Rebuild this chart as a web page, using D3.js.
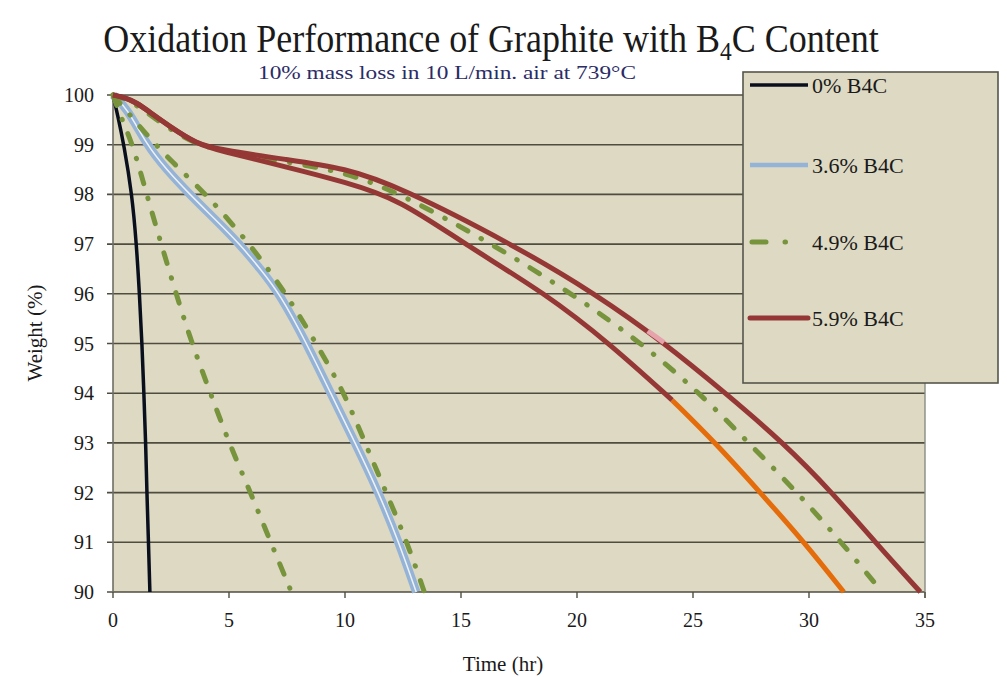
<!DOCTYPE html>
<html>
<head>
<meta charset="utf-8">
<script src="https://cdn.jsdelivr.net/npm/d3@7"></script>
<style>
  html, body { margin: 0; padding: 0; background: #ffffff; }
  svg { display: block; }
  text { font-family: "Liberation Serif", "Times New Roman", serif; fill: #1a1a1a; }
</style>
</head>
<body>
<svg id="chart" width="1007" height="677"></svg>
<script>
// ---------- data ----------
const titleMain = "Oxidation Performance of Graphite with B";
const titleSub = "4";
const titleEnd = "C Content";
const subtitle = "10% mass loss in 10 L/min.  air at 739°C";
const xLabel = "Time (hr)";
const yLabel = "Weight (%)";
const xTicks = [0, 5, 10, 15, 20, 25, 30, 35];
const yTicks = [90, 91, 92, 93, 94, 95, 96, 97, 98, 99, 100];
const legendLabels = ["0% B4C", "3.6% B4C", "4.9% B4C", "5.9% B4C"];

// 0% B4C
const t0 = [0, 0.2, 0.47, 0.82, 1.01, 1.14, 1.25, 1.33, 1.41, 1.46, 1.53, 1.59];
const w0 = [100, 99.6, 99, 98, 97, 96, 95, 94, 93, 92, 91, 90];
// 3.6% B4C
const t36 = [0, 0.6, 1.45, 2.3, 3.31, 4.4, 5.46, 6.35, 7.19, 8.35, 9.38, 10.44, 11.45, 12.32, 13.07];
const w36 = [100, 99.74, 99, 98.5, 98, 97.5, 97, 96.5, 96, 95, 94, 93, 92, 91, 90];
// 4.9% B4C (three samples)
const t49a = [0, 0.3, 0.86, 1.45, 2.08, 2.72, 3.4, 4.2, 5.0, 5.93, 6.8, 7.69];
const w49a = [100, 99.6, 99, 98, 97, 96, 95, 94, 93, 92, 91, 90];
const t49b = [0, 0.73, 1.45, 2.52, 4.03, 5.9, 7.47, 8.76, 9.98, 10.86, 11.78, 12.68, 13.42];
const w49b = [100, 99.6, 99.2, 98.66, 98, 97, 96, 95, 94, 93, 92, 91, 90];
const t49c = [0, 0.5, 1, 1.6, 2.5, 3.6, 5, 7.5, 10, 12.35, 16.35, 19.8, 22.8, 25.3, 27.4, 29.5, 31.4, 33.15];
const w49c = [100, 99.93, 99.8, 99.6, 99.3, 99.0, 98.85, 98.65, 98.45, 98.03, 97, 96, 95, 94, 93, 92, 91, 90];
// 5.9% B4C (two samples + orange tail + pink blip)
const t59a = [0, 0.5, 1, 1.6, 2.5, 3.6, 4.6, 7.5, 10, 12.35, 17.2, 20.8, 23.8, 26.4, 28.9, 31.0, 32.86, 34.8];
const w59a = [100, 99.95, 99.85, 99.65, 99.35, 99.02, 98.9, 98.7, 98.53, 98.15, 97, 96, 95, 94, 93, 92, 91, 90];
const t59b = [0, 0.5, 1, 1.6, 2.5, 3.6, 4.6, 7.5, 10, 12.35, 15.15, 18.66, 21.4, 24.1];
const w59b = [100, 99.95, 99.85, 99.65, 99.35, 99.02, 98.88, 98.55, 98.25, 97.9, 97, 96, 95, 93.86];
const tOrange = [24.1, 25.97, 27.9, 29.8, 31.5];
const wOrange = [93.86, 93, 92, 91, 90];
const tPink = [23.05, 23.75];
const wPink = [95.25, 95.02];

// ---------- layout ----------
const svg = d3.select("#chart");
const x = d3.scaleLinear().domain([0, 35]).range([113, 925]);
const y = d3.scaleLinear().domain([90, 100]).range([592, 95]);

const C = {
  bg: "#ddd9c3",
  grid: "#4f4d40",
  black: "#0a0f1e",
  blue: "#95b3d7",
  green: "#77933c",
  red: "#953735",
  orange: "#e46c0a",
  pink: "#e6a3ab"
};

// plot background
svg.append("rect")
  .attr("x", x(0)).attr("y", y(100))
  .attr("width", x(35) - x(0)).attr("height", y(90) - y(100))
  .attr("fill", C.bg);

// horizontal gridlines (and ticks to the left)
svg.append("g").selectAll("line").data(yTicks).join("line")
  .attr("x1", x(0) - 6).attr("x2", x(35))
  .attr("y1", d => y(d)).attr("y2", d => y(d))
  .attr("stroke", C.grid).attr("stroke-width", 1.6);

// left axis & right border
svg.append("line").attr("x1", x(0)).attr("x2", x(0)).attr("y1", y(100)).attr("y2", y(90))
  .attr("stroke", "#6e6e66").attr("stroke-width", 1.6);
svg.append("line").attr("x1", x(35)).attr("x2", x(35)).attr("y1", y(100)).attr("y2", y(90) + 6)
  .attr("stroke", "#8a8a84").attr("stroke-width", 1.4);

// x axis ticks
svg.append("g").selectAll("line").data(xTicks).join("line")
  .attr("x1", d => x(d)).attr("x2", d => x(d))
  .attr("y1", y(90)).attr("y2", y(90) + 6)
  .attr("stroke", C.grid).attr("stroke-width", 1.4);

// tick labels
svg.append("g").selectAll("text").data(yTicks).join("text")
  .attr("x", 94).attr("y", d => y(d)).attr("dy", "0.35em")
  .attr("text-anchor", "end").attr("font-size", 20)
  .text(d => d);
svg.append("g").selectAll("text").data(xTicks).join("text")
  .attr("x", d => x(d)).attr("y", 627)
  .attr("text-anchor", "middle").attr("font-size", 20)
  .text(d => d);

// axis titles
svg.append("text").attr("x", 503).attr("y", 671).attr("text-anchor", "middle")
  .attr("font-size", 21).text(xLabel);
svg.append("text").attr("transform", "translate(42,333) rotate(-90)")
  .attr("text-anchor", "middle").attr("font-size", 21).text(yLabel);

// title (slightly condensed, tall serif like the reference)
const tt = svg.append("text")
  .attr("transform", "translate(491,52) scale(0.9,1)")
  .attr("text-anchor", "middle").attr("font-size", 40);
tt.append("tspan").text(titleMain);
tt.append("tspan").attr("font-size", 26).attr("dy", 8).text(titleSub);
tt.append("tspan").attr("dy", -8).text(titleEnd);

svg.append("text").attr("x", 447).attr("y", 79).attr("text-anchor", "middle")
  .attr("font-size", 19).attr("textLength", 378).attr("lengthAdjust", "spacingAndGlyphs")
  .style("fill", "#2b2b66").text(subtitle);

// ---------- lines ----------
const line = d3.line().x(d => x(d[0])).y(d => y(d[1])).curve(d3.curveBasis);
const zip = (t, w) => t.map((v, i) => [v, w[i]]);
const g = svg.append("g");
const dashGreen = "11,15,0.5,15";

g.append("path").attr("d", line(zip(t0, w0))).attr("fill", "none")
  .attr("stroke", C.black).attr("stroke-width", 3.5);

g.append("path").attr("d", line(zip(t36, w36))).attr("fill", "none")
  .attr("stroke", C.blue).attr("stroke-width", 8.5);
g.append("path").attr("d", line(zip(t36, w36))).attr("fill", "none")
  .attr("stroke", "#eef2f5").attr("stroke-width", 1.5);

[[t49a, w49a], [t49b, w49b], [t49c, w49c]].forEach(([t, w]) => {
  g.append("path").attr("d", line(zip(t, w))).attr("fill", "none")
    .attr("stroke", C.green).attr("stroke-width", 5)
    .attr("stroke-linecap", "round").attr("stroke-dasharray", dashGreen);
});

[[t59a, w59a], [t59b, w59b]].forEach(([t, w]) => {
  g.append("path").attr("d", line(zip(t, w))).attr("fill", "none")
    .attr("stroke", C.red).attr("stroke-width", 5);
});
g.append("path").attr("d", line(zip(tOrange, wOrange))).attr("fill", "none")
  .attr("stroke", C.orange).attr("stroke-width", 5);
g.append("path").attr("d", line(zip(tPink, wPink))).attr("fill", "none")
  .attr("stroke", C.pink).attr("stroke-width", 5);

// ---------- legend ----------
const lg = svg.append("g");
lg.append("rect").attr("x", 743).attr("y", 72).attr("width", 255).attr("height", 311)
  .attr("fill", C.bg).attr("stroke", "#55554c").attr("stroke-width", 1.6);
const legendY = [85, 165, 242, 318];
const legendStyles = [
  { c: C.black, w: 3.5, dash: null, cap: "butt" },
  { c: C.blue, w: 4.5, dash: null, cap: "butt" },
  { c: C.green, w: 5, dash: "14,19,0.5,100", cap: "round" },
  { c: C.red, w: 5, dash: null, cap: "round" }
];
legendLabels.forEach((lab, i) => {
  const s = legendStyles[i];
  const ln = lg.append("line").attr("x1", i === 2 ? 752 : 750).attr("x2", 808)
    .attr("y1", legendY[i]).attr("y2", legendY[i])
    .attr("stroke", s.c).attr("stroke-width", s.w).attr("stroke-linecap", s.cap);
  if (s.dash) ln.attr("stroke-dasharray", s.dash);
  lg.append("text").attr("x", 812).attr("y", legendY[i]).attr("dy", "0.35em")
    .attr("font-size", 22).text(lab);
});
</script>
</body>
</html>
